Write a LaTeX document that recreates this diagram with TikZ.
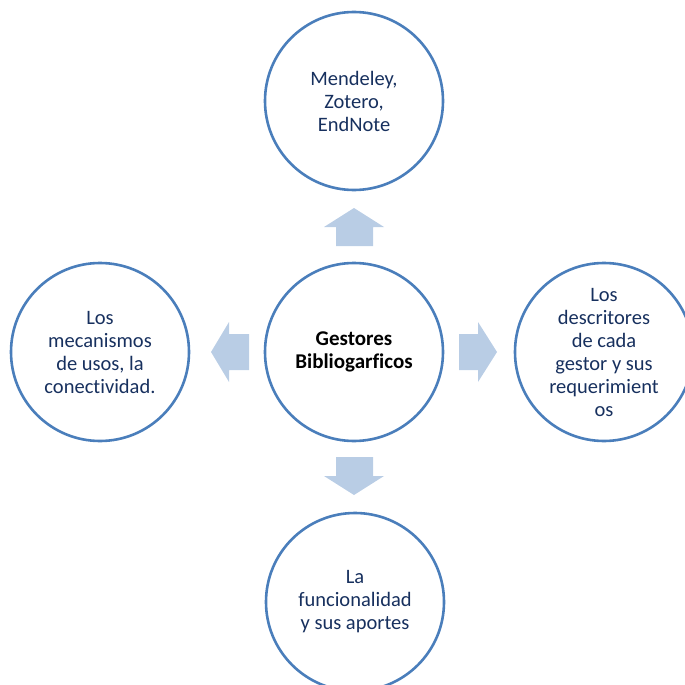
\documentclass[tikz,border=0pt]{standalone}
\usepackage{fontspec}
\setmainfont{Carlito}[Ligatures=NoCommon]
\definecolor{ringblue}{HTML}{4A7EBB}
\definecolor{arrowblue}{HTML}{B9CDE5}
\definecolor{navytext}{HTML}{17305E}
\tikzset{
  ring/.style={circle, draw=ringblue, line width=2.6pt, minimum size=178pt, inner sep=0pt,
    align=center, text=navytext, font=\fontsize{20.5}{23}\selectfont},
  hubring/.style={ring, text=black, font=\fontsize{21}{22.5}\selectfont\bfseries},
  blockarrow/.style={fill=arrowblue, draw=none}
}
\begin{document}
\begin{tikzpicture}[x=1pt,y=-1pt]
\useasboundingbox (0,0) rectangle (685,685);
\clip (0,0) rectangle (685,685);
\node[hubring] (hub) at (354,352) {Gestores\\Bibliogarficos};
\node[ring] (top) at (354,101) {Mendeley,\\Zotero,\\EndNote};
\node[ring] (left) at (100,352) {Los\\mecanismos\\de usos, la\\conectividad.};
\node[ring] (right) at (604,352) {Los\\descritores\\de cada\\gestor y sus\\requerimient\\os};
\node[ring] (bottom) at (355,602) {La\\funcionalidad\\y sus aportes};
% block arrows
\fill[blockarrow] (354,208) -- (384,227) -- (373,227) -- (373,246) -- (336,246) -- (336,227) -- (324,227) -- cycle;
\fill[blockarrow] (354,495) -- (384,476) -- (373,476) -- (373,457) -- (336,457) -- (336,476) -- (324,476) -- cycle;
\fill[blockarrow] (497,352) -- (478,322) -- (478,334) -- (459,334) -- (459,370) -- (478,370) -- (478,382) -- cycle;
\fill[blockarrow] (211,352) -- (229,322) -- (229,334) -- (249,334) -- (249,370) -- (229,370) -- (229,382) -- cycle;
\end{tikzpicture}
\end{document}
